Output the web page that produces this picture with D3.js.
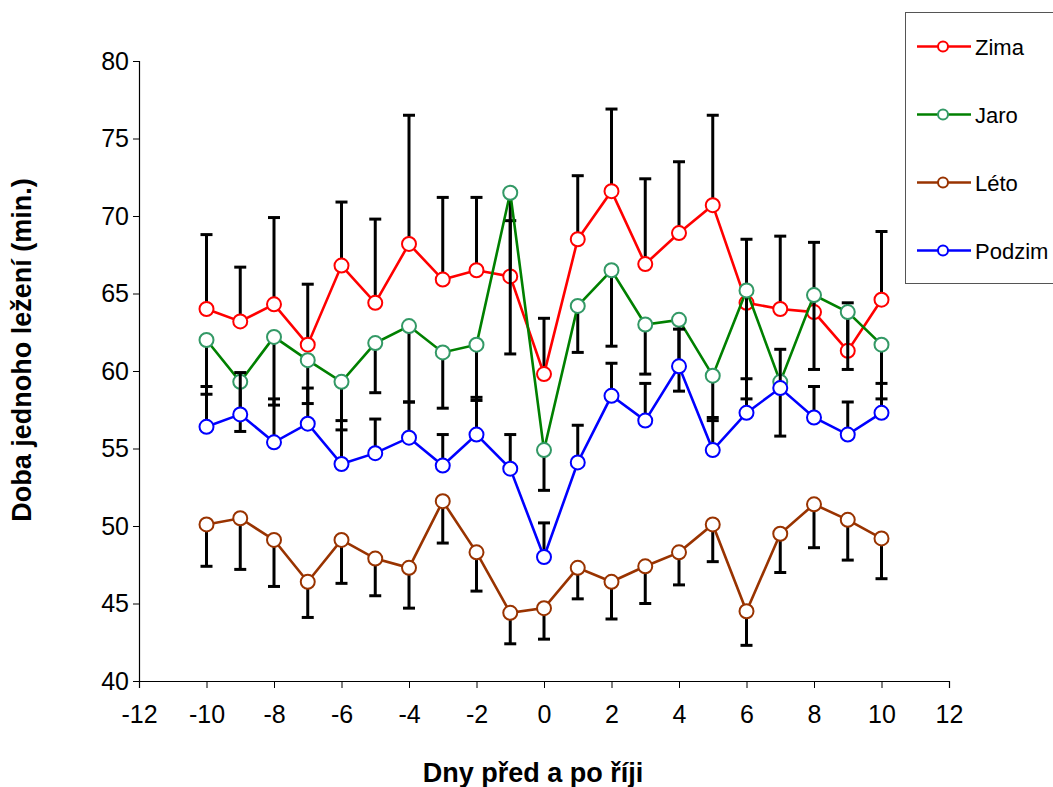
<!DOCTYPE html>
<html>
<head>
<meta charset="utf-8">
<script src="https://cdn.jsdelivr.net/npm/d3@7"></script>
<style>
body{margin:0;background:#fff;}
text{font-family:Arial,"Liberation Sans",sans-serif;}
</style>
</head>
<body>
<svg></svg>
<script>
var days = [-10,-9,-8,-7,-6,-5,-4,-3,-2,-1,0,1,2,3,4,5,6,7,8,9,10];
var xTicks = [-12,-10,-8,-6,-4,-2,0,2,4,6,8,10,12];
var yTicks = [40,45,50,55,60,65,70,75,80];

var zima    = [64.0,63.2,64.3,61.7,66.8,64.4,68.2,65.9,66.5,66.1,59.8,68.5,71.6,66.9,68.9,70.7,64.4,64.0,63.8,61.3,64.6];
var zimaErr = [4.8,3.5,5.6,3.9,4.1,5.4,8.3,5.3,4.7,3.6,3.6,4.1,5.3,5.5,4.6,5.8,4.1,4.7,4.5,3.1,4.4];
var jaro    = [62.0,59.3,62.2,60.7,59.3,61.8,62.9,61.2,61.7,71.5,54.9,64.2,66.5,63.0,63.3,59.7,65.2,59.3,64.9,63.8,61.7];
var jaroErr = [3.5,3.2,4.4,2.8,3.1,3.2,4.9,3.6,3.6,10.4,2.6,3.0,4.9,3.2,4.6,2.9,7.0,3.5,4.8,3.7,3.5];
var leto    = [50.1,50.5,49.1,46.4,49.1,47.9,47.3,51.6,48.3,44.4,44.7,47.3,46.4,47.4,48.3,50.1,44.5,49.5,51.4,50.4,49.2];
var letoErr = [2.7,3.3,3.0,2.3,2.8,2.4,2.6,2.7,2.5,2.0,2.0,2.0,2.4,2.4,2.1,2.4,2.2,2.5,2.8,2.6,2.6];
var podzim    = [56.4,57.2,55.4,56.6,54.0,54.7,55.7,53.9,55.9,53.7,48.0,54.1,58.4,56.8,60.3,54.9,57.3,58.9,57.0,55.9,57.3];
var podzimErr = [2.6,2.7,2.8,2.3,2.8,2.2,2.3,2.0,2.4,2.2,2.2,2.4,2.1,2.4,2.4,2.1,2.2,2.5,2.0,2.1,1.9];

var series = [
  {name:"Zima", values:zima, err:zimaErr, dir:1, line:"#ff0000", mark:"#ff0000"},
  {name:"Jaro", values:jaro, err:jaroErr, dir:-1, line:"#008000", mark:"#339966"},
  {name:"Léto", values:leto, err:letoErr, dir:-1, line:"#993300", mark:"#993300"},
  {name:"Podzim", values:podzim, err:podzimErr, dir:1, line:"#0000ff", mark:"#0000ff"}
];

var width = 1053, height = 787;
var svg = d3.select("svg").attr("width", width).attr("height", height);

var x = d3.scaleLinear().domain([-12,12]).range([139,949]);
var y = d3.scaleLinear().domain([40,80]).range([681,61]);

// axes (plain hyphen for negatives, like the original)
var yAxis = svg.append("g")
  .attr("transform","translate(139,0)")
  .call(d3.axisLeft(y).tickValues(yTicks).tickSize(6).tickPadding(4)
    .tickFormat(function(d){return String(d);}));
var xAxis = svg.append("g")
  .attr("transform","translate(0,681)")
  .call(d3.axisBottom(x).tickValues(xTicks).tickSize(7).tickPadding(17)
    .tickFormat(function(d){return String(d);}));
[xAxis,yAxis].forEach(function(a){
  a.select(".domain").attr("stroke","#000").attr("stroke-width",1.2);
  a.selectAll(".tick line").attr("stroke","#000");
  a.selectAll("text").attr("font-size","25px").attr("fill","#000")
    .attr("font-family","Arial, 'Liberation Sans', sans-serif");
});

var line = d3.line()
  .x(function(d){return x(d.day);})
  .y(function(d){return y(d.v);});

series.forEach(function(s){
  var pts = days.map(function(d,i){return {day:d, v:s.values[i], e:s.err[i]};});
  var g = svg.append("g");
  // error bars
  g.selectAll(".eb").data(pts).enter().append("line")
    .attr("x1",function(d){return x(d.day);})
    .attr("x2",function(d){return x(d.day);})
    .attr("y1",function(d){return y(d.v);})
    .attr("y2",function(d){return y(d.v + s.dir*d.e);})
    .attr("stroke","#000").attr("stroke-width",3);
  g.selectAll(".cap").data(pts).enter().append("line")
    .attr("x1",function(d){return x(d.day)-6;})
    .attr("x2",function(d){return x(d.day)+6;})
    .attr("y1",function(d){return y(d.v + s.dir*d.e);})
    .attr("y2",function(d){return y(d.v + s.dir*d.e);})
    .attr("stroke","#000").attr("stroke-width",3);
  g.append("path").datum(pts)
    .attr("d",line).attr("fill","none")
    .attr("stroke",s.line).attr("stroke-width",2.6);
  g.selectAll("circle").data(pts).enter().append("circle")
    .attr("cx",function(d){return x(d.day);})
    .attr("cy",function(d){return y(d.v);})
    .attr("r",7)
    .attr("fill","#fff").attr("stroke",s.mark).attr("stroke-width",2);
});

// axis titles
svg.append("text")
  .attr("x",533).attr("y",782)
  .attr("text-anchor","middle")
  .attr("font-size","27px").attr("font-weight","bold")
  .text("Dny před a po říji");
svg.append("text")
  .attr("transform","translate(31,350) rotate(-90)")
  .attr("text-anchor","middle")
  .attr("font-size","27px").attr("font-weight","bold")
  .text("Doba jednoho ležení (min.)");

// legend
var legend = svg.append("g");
legend.append("rect")
  .attr("x",905.5).attr("y",12.5).attr("width",160).attr("height",271)
  .attr("fill","#fff").attr("stroke","#555").attr("stroke-width",1);
var rows = legend.selectAll(".row").data(series).enter().append("g")
  .attr("transform",function(d,i){return "translate(0,"+(46.5+i*68)+")";});
rows.append("line").attr("x1",917).attr("x2",971).attr("y1",0).attr("y2",0)
  .attr("stroke",function(d){return d.line;}).attr("stroke-width",2.6);
rows.append("circle").attr("cx",943).attr("cy",0).attr("r",5)
  .attr("fill","#fff").attr("stroke",function(d){return d.mark;}).attr("stroke-width",2);
rows.append("text").attr("x",975).attr("y",8)
  .attr("font-size","22px")
  .text(function(d){return d.name;});
</script>
</body>
</html>
